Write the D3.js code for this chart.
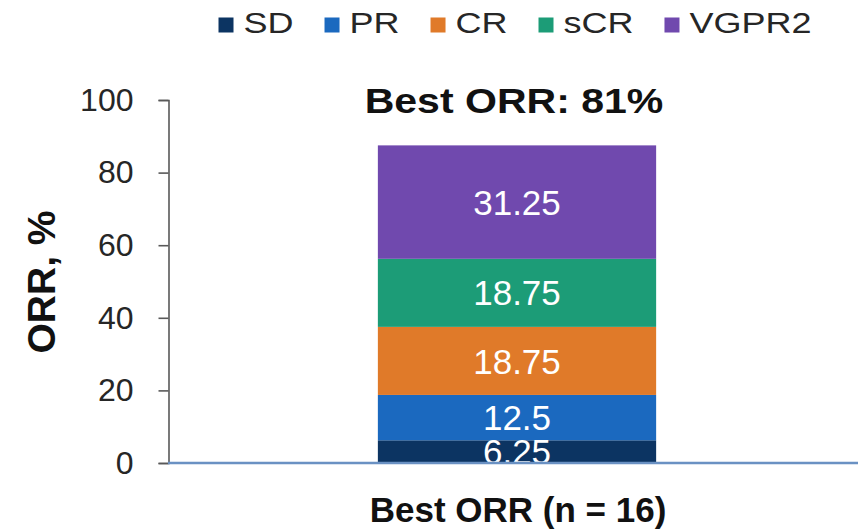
<!DOCTYPE html>
<html>
<head>
<meta charset="utf-8">
<script src="https://cdn.jsdelivr.net/npm/d3@7"></script>
<style>
  html, body { margin: 0; padding: 0; background: #fff; }
  svg { display: block; font-family: "Liberation Sans", Arial, sans-serif; }
</style>
</head>
<body>
<svg id="chart" width="858" height="529"></svg>
<script>
// Stacked response breakdown for one cohort
const categories = ["Best ORR (n = 16)"];
const seriesNames = ["SD", "PR", "CR", "sCR", "VGPR2"];
const seriesColors = ["#0c3462", "#1b69bf", "#e07a29", "#1c9c77", "#7049ae"];
const SD = [6.25];
const PR = [12.5];
const CR = [18.75];
const sCR = [18.75];
const VGPR2 = [31.25];
const yTicks = [0, 20, 40, 60, 80, 100];
const chartTitle = "Best ORR: 81%";
const yTitle = "ORR, %";

const seriesValues = [SD, PR, CR, sCR, VGPR2];
const rows = categories.map((c, i) => {
  const r = { category: c };
  seriesNames.forEach((s, k) => { r[s] = seriesValues[k][i]; });
  return r;
});

const svg = d3.select("#chart");

const x = d3.scaleBand().domain(categories).range([178, 856]).paddingInner(0.418).paddingOuter(0.418);
const y = d3.scaleLinear().domain([0, 100]).range([463, 100]);
const color = d3.scaleOrdinal().domain(seriesNames).range(seriesColors);

const stacked = d3.stack().keys(seriesNames)(rows);

// bar segments
const layers = svg.append("g").selectAll("g").data(stacked).join("g")
  .attr("fill", d => color(d.key));
layers.selectAll("rect").data(d => d).join("rect")
  .attr("x", d => x(d.data.category))
  .attr("width", x.bandwidth())
  .attr("y", d => y(d[1]))
  .attr("height", d => y(d[0]) - y(d[1]));

// segment value labels
const labels = svg.append("g");
stacked.forEach(layer => {
  layer.forEach(d => {
    labels.append("text")
      .attr("x", x(d.data.category) + x.bandwidth() / 2)
      .attr("y", (y(d[0]) + y(d[1])) / 2)
      .attr("dy", "0.36em")
      .attr("text-anchor", "middle")
      .attr("fill", "#fff")
      .style("font-size", "35px")
      .text(d.data[layer.key]);
  });
});

// y axis
const yAxis = svg.append("g")
  .attr("transform", "translate(168.5,0)")
  .call(d3.axisLeft(y).tickValues(yTicks).tickSize(10).tickPadding(25));
yAxis.select(".domain").attr("stroke", "#595959").attr("stroke-width", 1.6);
yAxis.selectAll(".tick line").attr("stroke", "#595959").attr("stroke-width", 1.6);
yAxis.selectAll(".tick text")
  .attr("fill", "#262626")
  .style("font-size", "32px")
  .style("font-family", "'Liberation Sans', Arial, sans-serif");

// baseline along zero
svg.append("line")
  .attr("x1", 168).attr("x2", 858)
  .attr("y1", y(0)).attr("y2", y(0))
  .attr("stroke", "#6a91c3").attr("stroke-width", 2.6);

// y axis title
svg.append("text")
  .attr("transform", `translate(41,${282}) rotate(-90)`)
  .attr("text-anchor", "middle")
  .attr("dominant-baseline", "central")
  .attr("fill", "#111")
  .style("font-size", "39px")
  .style("font-weight", "bold")
  .text(yTitle);

// chart title
const cx = x(categories[0]) + x.bandwidth() / 2;
svg.append("text")
  .attr("transform", `translate(${cx - 3},113) scale(1.14,1)`)
  .attr("text-anchor", "middle")
  .attr("fill", "#111")
  .style("font-size", "36px")
  .style("font-weight", "bold")
  .text(chartTitle);

// category label
svg.append("text")
  .attr("transform", `translate(${cx + 1},522)`)
  .attr("text-anchor", "middle")
  .attr("fill", "#111")
  .style("font-size", "35px")
  .style("font-weight", "bold")
  .text(categories[0]);

// legend
const legend = svg.append("g");
const sx = 1.2, sq = 15, gapSq = 10, gapItem = 31;
const items = seriesNames.map(name => {
  const g = legend.append("g");
  g.append("rect").attr("width", sq).attr("height", sq).attr("y", 17.5).attr("fill", color(name));
  const t = g.append("text")
    .attr("transform", `translate(${sq + gapSq},33) scale(${sx},1)`)
    .attr("fill", "#262626")
    .style("font-size", "30px")
    .text(name);
  return { g, w: sq + gapSq + t.node().getComputedTextLength() * sx };
});
const totalW = d3.sum(items, d => d.w) + gapItem * (items.length - 1);
let lx = 515 - totalW / 2;
items.forEach(it => {
  it.g.attr("transform", `translate(${lx},0)`);
  lx += it.w + gapItem;
});
</script>
</body>
</html>
